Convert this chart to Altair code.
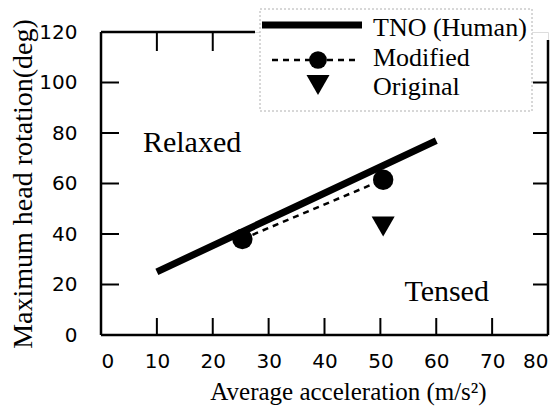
import altair as alt
import pandas as pd

# ---- data ----
tno_x = [10, 35, 60]
tno_y = [25, 51, 77]
mod_x = [25.3, 50.5]
mod_y = [38, 61.5]
orig_x = [50.5]
orig_y = [43]
x_ticks = [0, 10, 20, 30, 40, 50, 60, 70, 80]
y_ticks = [0, 20, 40, 60, 80, 100, 120]
bottom_inner_ticks = [10, 20, 30, 40, 50, 60, 70]
left_inner_ticks = [20, 40, 60, 80, 100]
top_inner_ticks = [10, 20]
right_inner_ticks = [20, 40, 60, 80, 100]
legend_labels = ["TNO (Human)", "Modified", "Original"]
region_labels = ["Relaxed", "Tensed"]
region_x = [7.5, 54.3]
region_y = [72.4, 13.4]

W, H = 447, 303
SERIF = "Liberation Serif"
SANS = "DejaVu Sans"

xs = alt.Scale(domain=[0, 80], nice=False, zero=False)
ys = alt.Scale(domain=[0, 120], nice=False, zero=False)

x_axis = alt.Axis(values=x_ticks, ticks=False, tickSize=0, domain=False, grid=False,
                  labelFont=SANS, labelFontSize=20, labelPadding=16, labelColor="black",
                  title="Average acceleration (m/s²)", titleFont=SERIF, titleFontSize=25,
                  titleFontWeight="normal", titleColor="black", titleX=247, titleY=64,
                  titleBaseline="alphabetic", titleAlign="center")
y_axis = alt.Axis(values=y_ticks, ticks=False, tickSize=0, domain=False, grid=False,
                  labelFont=SANS, labelFontSize=20, labelPadding=24, labelColor="black",
                  title="Maximum head rotation(deg)", titleFont=SERIF, titleFontSize=28,
                  titleFontWeight="normal", titleColor="black", titlePadding=1)


def X(f="x"):
    return alt.X(f + ":Q", scale=xs, axis=x_axis)


def Y(f="y"):
    return alt.Y(f + ":Q", scale=ys, axis=y_axis)


one = pd.DataFrame({"a": [0]})

df_tno = pd.DataFrame({"x": tno_x, "y": tno_y})
df_mod = pd.DataFrame({"x": mod_x, "y": mod_y})
df_orig = pd.DataFrame({"x": orig_x, "y": orig_y})
df_reg = pd.DataFrame({"x": region_x, "y": region_y, "t": region_labels})

tno = alt.Chart(df_tno).mark_line(color="black", strokeWidth=7, strokeCap="butt").encode(x=X(), y=Y())
mod_line = alt.Chart(df_mod).mark_line(color="black", strokeWidth=2.5, strokeDash=[6, 5]).encode(x=X(), y=Y())
mod_pts = alt.Chart(df_mod).mark_point(shape="circle", filled=True, size=415, color="black", opacity=1).encode(x=X(), y=Y())
orig_pts = alt.Chart(df_orig).mark_point(shape="triangle-down", filled=True, size=530, color="black", opacity=1).encode(x=X(), y=Y())
regions = alt.Chart(df_reg).mark_text(align="left", baseline="alphabetic", font=SERIF, fontSize=30, color="black").encode(
    x=X(), y=Y(), text="t:N")

# frame
frame = [
    alt.Chart(one).mark_rule(color="black", strokeWidth=2.5).encode(x=alt.value(0), y=alt.value(0), y2=alt.value(H)),
    alt.Chart(one).mark_rule(color="black", strokeWidth=2.5).encode(x=alt.value(0), x2=alt.value(W), y=alt.value(H)),
    alt.Chart(one).mark_rule(color="black", strokeWidth=2.5).encode(x=alt.value(0), x2=alt.value(154), y=alt.value(0)),
    alt.Chart(one).mark_rule(color="black", strokeWidth=2.5).encode(x=alt.value(W), y=alt.value(8), y2=alt.value(H)),
]
ticks = [
    alt.Chart(pd.DataFrame({"x": bottom_inner_ticks})).mark_rule(color="black", strokeWidth=2).encode(
        x=X(), y=alt.value(H), y2=alt.value(H - 17)),
    alt.Chart(pd.DataFrame({"x": top_inner_ticks})).mark_rule(color="black", strokeWidth=2).encode(
        x=X(), y=alt.value(0), y2=alt.value(19)),
    alt.Chart(pd.DataFrame({"y": left_inner_ticks})).mark_rule(color="black", strokeWidth=2).encode(
        y=Y(), x=alt.value(0), x2=alt.value(18)),
    alt.Chart(pd.DataFrame({"y": right_inner_ticks})).mark_rule(color="black", strokeWidth=2).encode(
        y=Y(), x=alt.value(W - 15), x2=alt.value(W)),
]

# legend (drawn by hand)
legend = [
    alt.Chart(one).mark_rect(fill="white", stroke="#b0b0b0", strokeWidth=1, strokeDash=[2, 2]).encode(
        x=alt.value(159), x2=alt.value(431), y=alt.value(-23), y2=alt.value(79)),
    alt.Chart(one).mark_rule(color="black", strokeWidth=7).encode(x=alt.value(161), x2=alt.value(261), y=alt.value(-7)),
    alt.Chart(one).mark_rule(color="black", strokeWidth=2.5, strokeDash=[6, 5]).encode(
        x=alt.value(171), x2=alt.value(258), y=alt.value(28)),
    alt.Chart(one).mark_point(shape="circle", filled=True, size=314, color="black", opacity=1).encode(
        x=alt.value(217), y=alt.value(28)),
    alt.Chart(one).mark_point(shape="triangle-down", filled=True, size=530, color="black", opacity=1).encode(
        x=alt.value(217), y=alt.value(53)),
]
for lab, yy in zip(legend_labels, [4, 34, 63]):
    legend.append(alt.Chart(one).mark_text(align="left", baseline="alphabetic", font=SERIF, fontSize=26,
                                           color="black").encode(x=alt.value(272), y=alt.value(yy), text=alt.value(lab)))

chart = alt.layer(tno, mod_line, mod_pts, orig_pts, regions, *frame, *ticks, *legend).properties(
    width=W, height=H,
    autosize=alt.AutoSizeParams(type="none"),
    padding={"left": 93, "top": 24, "right": 2, "bottom": 71},
).configure_view(stroke=None).configure(background="white")

chart.save("out.html", embed_options={"renderer": "svg", "actions": False})
